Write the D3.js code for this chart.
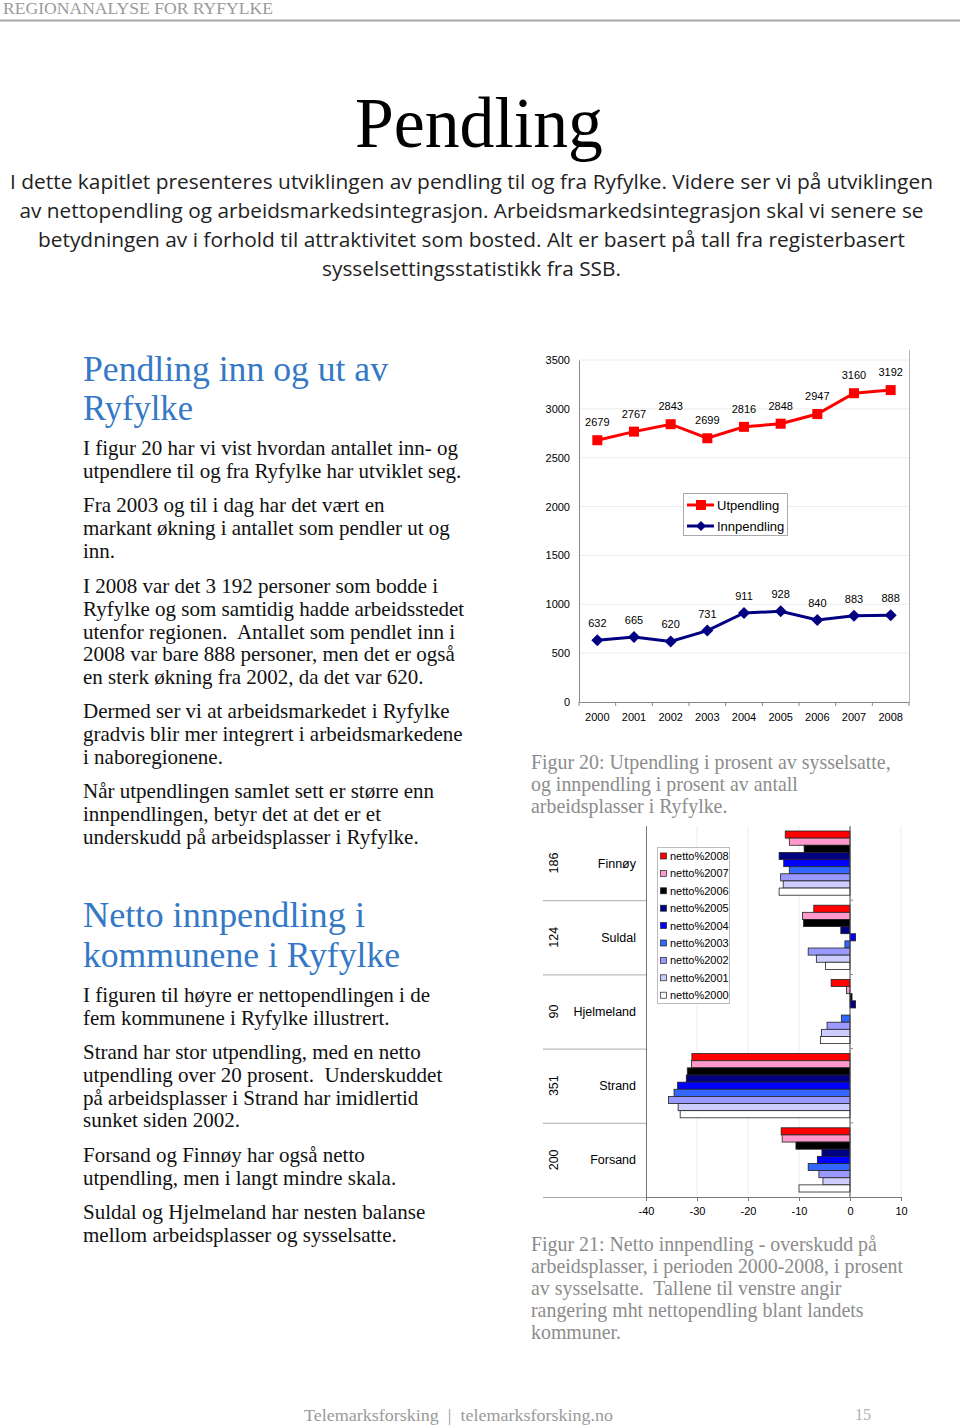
<!DOCTYPE html>
<html><head><meta charset="utf-8">
<script src="https://cdn.jsdelivr.net/npm/d3@7"></script>
<style>
html,body{margin:0;padding:0;background:#fff;}
svg{display:block;}
svg text{white-space:pre;}
</style></head>
<body>
<svg id="page" width="960" height="1426"></svg>
<script>
// ---------- DATA ----------
const years = ["2000","2001","2002","2003","2004","2005","2006","2007","2008"];
const utpendling = [2679,2767,2843,2699,2816,2848,2947,3160,3192];
const innpendling = [632,665,620,731,911,928,840,883,888];
const lineYTicks = [0,500,1000,1500,2000,2500,3000,3500];

const kommuner = ["Finnøy","Suldal","Hjelmeland","Strand","Forsand"];
const rangering = ["186","124","90","351","200"];
const nettoSeries = ["netto%2008","netto%2007","netto%2006","netto%2005","netto%2004","netto%2003","netto%2002","netto%2001","netto%2000"];
const netto2008 = [-12.7,-7.1,-3.7,-31.0,-13.5];
const netto2007 = [-11.9,-9.3,-0.7,-31.1,-13.3];
const netto2006 = [-9.0,-9.1,0.4,-31.9,-10.6];
const netto2005 = [-13.9,-1.8,1.1,-32.1,-5.5];
const netto2004 = [-13.0,1.1,0.0,-33.8,-6.4];
const netto2003 = [-11.9,-1.0,-1.7,-34.5,-8.2];
const netto2002 = [-13.6,-8.2,-4.5,-35.6,-6.1];
const netto2001 = [-13.1,-6.6,-5.6,-33.7,-5.3];
const netto2000 = [-13.9,-4.8,-5.8,-33.3,-10.0];
const nettoValues = [netto2008,netto2007,netto2006,netto2005,netto2004,netto2003,netto2002,netto2001,netto2000];
const nettoColors = ["#ff0000","#ff99cc","#000000","#000080","#0000ff","#3366ff","#9999ff","#ccccff","#ffffff"];
const barXTicks = [-40,-30,-20,-10,0,10];

// ---------- TEXT ----------
const introLines = [
 ["I dette kapitlet presenteres utviklingen av pendling til og fra Ryfylke. Videre ser vi på utviklingen", 923],
 ["av nettopendling og arbeidsmarkedsintegrasjon. Arbeidsmarkedsintegrasjon skal vi senere se", 904],
 ["betydningen av i forhold til attraktivitet som bosted. Alt er basert på tall fra registerbasert", 867],
 ["sysselsettingsstatistikk fra SSB.", 299]
];
const bodyParas = [
 [449, ["I figur 20 har vi vist hvordan antallet inn- og","utpendlere til og fra Ryfylke har utviklet seg."]],
 [506, ["Fra 2003 og til i dag har det vært en","markant økning i antallet som pendler ut og","inn."]],
 [587, ["I 2008 var det 3 192 personer som bodde i","Ryfylke og som samtidig hadde arbeidsstedet","utenfor regionen.  Antallet som pendlet inn i","2008 var bare 888 personer, men det er også","en sterk økning fra 2002, da det var 620."]],
 [712, ["Dermed ser vi at arbeidsmarkedet i Ryfylke","gradvis blir mer integrert i arbeidsmarkedene","i naboregionene."]],
 [792, ["Når utpendlingen samlet sett er større enn","innpendlingen, betyr det at det er et","underskudd på arbeidsplasser i Ryfylke."]],
 [996, ["I figuren til høyre er nettopendlingen i de","fem kommunene i Ryfylke illustrert."]],
 [1053,["Strand har stor utpendling, med en netto","utpendling over 20 prosent.  Underskuddet","på arbeidsplasser i Strand har imidlertid","sunket siden 2002."]],
 [1156,["Forsand og Finnøy har også netto","utpendling, men i langt mindre skala."]],
 [1213,["Suldal og Hjelmeland har nesten balanse","mellom arbeidsplasser og sysselsatte."]]
];
const caption20 = ["Figur 20: Utpendling i prosent av sysselsatte,","og innpendling i prosent av antall","arbeidsplasser i Ryfylke."];
const caption21 = ["Figur 21: Netto innpendling - overskudd på","arbeidsplasser, i perioden 2000-2008, i prosent","av sysselsatte.  Tallene til venstre angir","rangering mht nettopendling blant landets","kommuner."];

const svg = d3.select("#page");
const SERIF = "'Liberation Serif','Times New Roman',serif";
const SANS = "'Liberation Sans',Arial,sans-serif";
const HUM = "'Open Sans','Noto Sans',sans-serif";

// header
svg.append("text").attr("x",3).attr("y",14).attr("font-family",SERIF).attr("font-size",17)
  .attr("fill","#9a9a9a").attr("textLength",270).attr("lengthAdjust","spacingAndGlyphs").text("REGIONANALYSE FOR RYFYLKE");
svg.append("line").attr("x1",0).attr("x2",960).attr("y1",20.5).attr("y2",20.5).attr("stroke","#a8a8a8").attr("stroke-width",2);

// title
svg.append("text").attr("x",479).attr("y",147).attr("text-anchor","middle").attr("font-family",SERIF)
  .attr("font-size",72).attr("fill","#000").attr("textLength",248).attr("lengthAdjust","spacingAndGlyphs").text("Pendling");

// intro
introLines.forEach((l,i)=>{
  svg.append("text").attr("x",471.5).attr("y",189+i*29).attr("text-anchor","middle")
   .attr("font-family",HUM).attr("font-size",20.5).attr("fill","#222")
   .attr("textLength",l[1]).attr("lengthAdjust","spacingAndGlyphs").text(l[0]);
});

// headings
const BLUE = "#3478c6";
[["Pendling inn og ut av",381,305],["Ryfylke",420,110],["Netto innpendling i",927,282],["kommunene i Ryfylke",967,317]].forEach(h=>{
  svg.append("text").attr("x",83).attr("y",h[1]).attr("font-family",SERIF).attr("font-size",35)
   .attr("fill",BLUE).attr("textLength",h[2]).attr("lengthAdjust","spacingAndGlyphs").text(h[0]);
});

// body
bodyParas.forEach(p=>{
  p[1].forEach((t,i)=>{
    svg.append("text").attr("x",83).attr("y",p[0]+6+i*22.8).attr("font-family",SERIF)
     .attr("font-size",21).attr("fill","#111").text(t);
  });
});

// captions
function caption(lines,y0){
  lines.forEach((t,i)=>{
    svg.append("text").attr("x",531).attr("y",y0+i*22).attr("font-family",SERIF)
     .attr("font-size",19.9).attr("fill","#8c8c8c").text(t);
  });
}
caption(caption20,769);
caption(caption21,1251);

// footer
svg.append("text").attr("x",304).attr("y",1421).attr("font-family",SERIF).attr("font-size",17)
  .attr("fill","#9a9a9a").attr("textLength",309).attr("lengthAdjust","spacingAndGlyphs")
  .text("Telemarksforsking  |  telemarksforsking.no");
svg.append("text").attr("x",855).attr("y",1420).attr("font-family",SERIF).attr("font-size",16)
  .attr("fill","#b0b0b0").text("15");

// ---------- LINE CHART ----------
{
  const L = 579, R = 909, T = 360, B = 702;
  const g = svg.append("g");
  const x = d3.scaleBand().domain(years).range([L,R]).padding(0);
  const y = d3.scaleLinear().domain([0,3500]).range([B,T]);
  g.selectAll(".hg").data(lineYTicks.filter(v=>v>0)).join("line")
   .attr("x1",L).attr("x2",R).attr("y1",d=>y(d)).attr("y2",d=>y(d)).attr("stroke","#ececec").attr("stroke-width",1);
  g.append("line").attr("x1",R+0.5).attr("x2",R+0.5).attr("y1",350).attr("y2",B).attr("stroke","#b4b4b4");
  const ya = d3.axisLeft(y).tickValues(lineYTicks).tickSize(0).tickPadding(9).tickFormat(d=>String(d));
  const yg = g.append("g").attr("transform",`translate(${L},0)`).call(ya);
  yg.select(".domain").attr("stroke","#888");
  yg.selectAll("text").attr("font-family",SANS).attr("font-size",11).attr("fill","#000");
  const xa = d3.axisBottom(x).tickSize(0).tickPadding(11);
  const xg = g.append("g").attr("transform",`translate(0,${B})`).call(xa);
  xg.select(".domain").attr("stroke","#888");
  xg.selectAll("text").attr("font-family",SANS).attr("font-size",11).attr("fill","#000");
  g.selectAll(".bt").data(years.concat(["end"])).join("line")
   .attr("x1",(d,i)=>L+i*x.bandwidth()).attr("x2",(d,i)=>L+i*x.bandwidth())
   .attr("y1",B).attr("y2",B+4).attr("stroke","#888");
  const cx = d=>x(d)+x.bandwidth()/2;
  const line = d3.line().x((d,i)=>cx(years[i])).y(d=>y(d));
  g.append("path").datum(utpendling).attr("d",line).attr("fill","none").attr("stroke","#ff0000").attr("stroke-width",3);
  g.selectAll(".sq").data(utpendling).join("rect")
   .attr("x",(d,i)=>cx(years[i])-5).attr("y",d=>y(d)-5).attr("width",10).attr("height",10).attr("fill","#ff0000");
  g.selectAll(".ul").data(utpendling).join("text")
   .attr("x",(d,i)=>cx(years[i])).attr("y",d=>y(d)-14).attr("text-anchor","middle")
   .attr("font-family",SANS).attr("font-size",11).attr("fill","#000").text(d=>d);
  g.append("path").datum(innpendling).attr("d",line).attr("fill","none").attr("stroke","#000080").attr("stroke-width",3);
  g.selectAll(".dm").data(innpendling).join("path")
   .attr("d",(d,i)=>{const px=cx(years[i]),py=y(d);return `M${px},${py-6}L${px+6},${py}L${px},${py+6}L${px-6},${py}Z`;})
   .attr("fill","#000080");
  g.selectAll(".il").data(innpendling).join("text")
   .attr("x",(d,i)=>cx(years[i])).attr("y",d=>y(d)-13).attr("text-anchor","middle")
   .attr("font-family",SANS).attr("font-size",11).attr("fill","#000").text(d=>d);
  const lg = g.append("g");
  lg.append("rect").attr("x",683.5).attr("y",493.5).attr("width",104).attr("height",42).attr("fill","#fff").attr("stroke","#aaa");
  lg.append("line").attr("x1",687).attr("x2",714).attr("y1",505).attr("y2",505).attr("stroke","#ff0000").attr("stroke-width",3);
  lg.append("rect").attr("x",696).attr("y",500).attr("width",10).attr("height",10).attr("fill","#ff0000");
  lg.append("text").attr("x",717).attr("y",510).attr("font-family",SANS).attr("font-size",13).text("Utpendling");
  lg.append("line").attr("x1",687).attr("x2",714).attr("y1",526).attr("y2",526).attr("stroke","#000080").attr("stroke-width",3);
  lg.append("path").attr("d","M701,521L706,526L701,531L696,526Z").attr("fill","#000080");
  lg.append("text").attr("x",717).attr("y",531).attr("font-family",SANS).attr("font-size",13).text("Innpendling");
}

// ---------- BAR CHART ----------
{
  const L = 646, R = 901, T = 826, B = 1197;
  const g = svg.append("g");
  const x = d3.scaleLinear().domain([-40,10]).range([L,R]);
  const yG = d3.scaleBand().domain(kommuner).range([T,B]).paddingInner(0).paddingOuter(0);
  const yS = d3.scaleBand().domain(nettoSeries).range([0,yG.bandwidth()]).paddingOuter(0.7).paddingInner(0);
  g.selectAll(".vg").data(barXTicks.filter(v=>v!==-40 && v!==0)).join("line")
   .attr("x1",d=>x(d)).attr("x2",d=>x(d)).attr("y1",T).attr("y2",B).attr("stroke","#ececec");
  nettoSeries.forEach((s,si)=>{
    g.selectAll(".b"+si).data(nettoValues[si]).join("rect")
     .attr("x",d=>Math.min(x(0),x(d))).attr("width",d=>Math.abs(x(d)-x(0)))
     .attr("y",(d,i)=>yG(kommuner[i])+yS(s)).attr("height",yS.bandwidth())
     .attr("fill",nettoColors[si]).attr("stroke",d=>d===0?"none":"#222").attr("stroke-width",0.8);
  });
  g.append("line").attr("x1",x(0)).attr("x2",x(0)).attr("y1",T).attr("y2",B).attr("stroke","#444").attr("stroke-width",1);
  g.selectAll(".zt").data(kommuner.slice(1)).join("line")
   .attr("x1",x(0)).attr("x2",x(0)+3).attr("y1",d=>yG(d)).attr("y2",d=>yG(d)).attr("stroke","#888");
  g.append("line").attr("x1",L+0.5).attr("x2",L+0.5).attr("y1",T).attr("y2",B).attr("stroke","#777");
  g.selectAll(".sep").data(kommuner.slice(1)).join("line")
   .attr("x1",543).attr("x2",L).attr("y1",d=>yG(d)+0.5).attr("y2",d=>yG(d)+0.5).attr("stroke","#aaa");
  const xa = d3.axisBottom(x).tickValues(barXTicks).tickSize(4).tickPadding(6).tickFormat(d=>String(d));
  const xg = g.append("g").attr("transform",`translate(0,${B})`).call(xa);
  xg.select(".domain").attr("stroke","#777");
  xg.selectAll(".tick line").attr("stroke","#777");
  xg.selectAll("text").attr("font-family",SANS).attr("font-size",11).attr("fill","#000");
  g.append("line").attr("x1",543).attr("x2",L).attr("y1",B+0.5).attr("y2",B+0.5).attr("stroke","#aaa");
  g.selectAll(".cn").data(kommuner).join("text")
   .attr("x",636).attr("y",d=>yG(d)+yG.bandwidth()/2+4.5).attr("text-anchor","end")
   .attr("font-family",SANS).attr("font-size",12.5).attr("fill","#000").text(d=>d);
  g.selectAll(".rk").data(rangering).join("text")
   .attr("transform",(d,i)=>`translate(558,${yG(kommuner[i])+yG.bandwidth()/2}) rotate(-90)`)
   .attr("text-anchor","middle").attr("font-family",SANS).attr("font-size",12.5).attr("fill","#000").text(d=>d);
  const lg = g.append("g");
  lg.append("rect").attr("x",657.5).attr("y",847.5).attr("width",72).attr("height",156).attr("fill","#fff").attr("stroke","#bbb");
  nettoSeries.forEach((s,i)=>{
    const cy = 856+i*17.4;
    lg.append("rect").attr("x",660.5).attr("y",cy-3).attr("width",6).attr("height",6)
      .attr("fill",nettoColors[i]).attr("stroke","#222").attr("stroke-width",0.7);
    lg.append("text").attr("x",670).attr("y",cy+4).attr("font-family",SANS).attr("font-size",11).attr("fill","#000").text(s);
  });
}
</script>
</body></html>
